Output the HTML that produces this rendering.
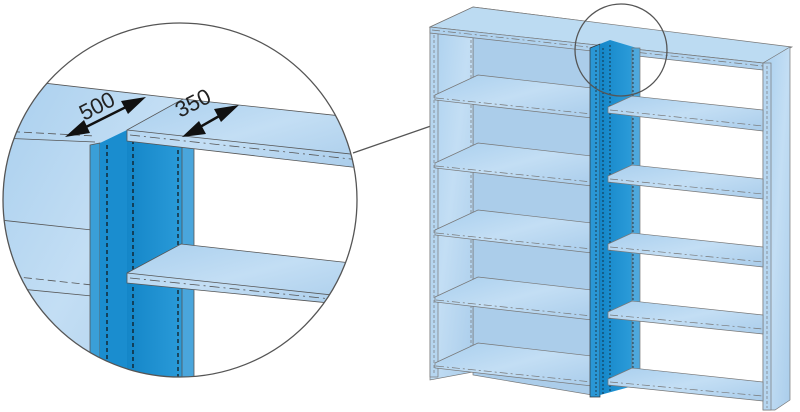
<!DOCTYPE html>
<html><head><style>html,body{margin:0;padding:0;background:#fff}svg{display:block}</style></head>
<body>
<svg width="800" height="412" viewBox="0 0 800 412" xmlns="http://www.w3.org/2000/svg" font-family="Liberation Sans, sans-serif">
<defs>
<linearGradient id="lb" x1="0" y1="0" x2="1" y2="1">
<stop offset="0" stop-color="#a9cfee"/><stop offset="0.5" stop-color="#c3def4"/><stop offset="1" stop-color="#aacdeb"/>
</linearGradient>
<linearGradient id="db" x1="0" y1="0" x2="1" y2="0">
<stop offset="0" stop-color="#1486c8"/><stop offset="1" stop-color="#2f9fdc"/>
</linearGradient>
<clipPath id="cc"><circle cx="180" cy="200" r="177"/></clipPath>
</defs>

<!-- ===== Zoom circle ===== -->
<g clip-path="url(#cc)" stroke="#555" stroke-width="0.8">
<polygon points="0,78 183,99 183,412 0,412" fill="url(#lb)" stroke="none"/>
<line x1="0" y1="78" x2="183" y2="99"/>
<line x1="0" y1="138" x2="95" y2="142"/>
<line x1="0" y1="131" x2="95" y2="136" stroke-dasharray="8,4"/>
<line x1="0" y1="220" x2="92" y2="230"/>
<line x1="0" y1="275" x2="92" y2="285" stroke-dasharray="8,4"/>
<line x1="0" y1="287" x2="92" y2="296"/>
<polygon points="90,145 100,143 100,412 90,412" fill="#3a9fd8"/>
<polygon points="100,143 127,130 127,412 100,412" fill="#1a8dcf" stroke="none"/>
<polygon points="127,130 194,130 194,412 127,412" fill="url(#db)" stroke="none"/>
<polygon points="182,140 194,140 194,412 182,412" fill="#4aa6dc"/>
<line x1="107" y1="145" x2="107" y2="412" stroke="#111" stroke-dasharray="4,3" stroke-width="1.2"/>
<line x1="133" y1="140" x2="133" y2="412" stroke="#111" stroke-dasharray="4,3" stroke-width="1.2"/>
<line x1="178" y1="143" x2="178" y2="412" stroke="#111" stroke-dasharray="4,3" stroke-width="1.2"/>
<polygon points="127,130 183,99 360,118 360,168 127,141" fill="url(#lb)"/>
<line x1="127" y1="130" x2="360" y2="155"/>
<line x1="130" y1="135" x2="360" y2="160" stroke-dasharray="10,4,2,4"/>
<polygon points="127,273 181,244 360,264 360,306 127,283" fill="url(#lb)"/>
<line x1="127" y1="273" x2="360" y2="298"/>
<line x1="130" y1="278" x2="360" y2="302" stroke-dasharray="10,4,2,4"/>
</g>
<circle cx="180" cy="200" r="177" fill="none" stroke="#555" stroke-width="1.3"/>
<line x1="353" y1="153" x2="578" y2="75" stroke="#555" stroke-width="1.3"/>
<g stroke="#111" stroke-width="2.5" fill="#111">
<line x1="76" y1="132" x2="134" y2="103"/>
<polygon points="65,137 84,120 90,133" stroke="none"/>
<polygon points="146,97 121,101 128,114" stroke="none"/>
<line x1="193" y1="131" x2="228" y2="111"/>
<polygon points="182,137 199,121 206,134" stroke="none"/>
<polygon points="239,105 214,109 221,122" stroke="none"/>
</g>
<text x="0" y="0" font-size="22" fill="#222" transform="translate(84,121) rotate(-27)">500</text>
<text x="0" y="0" font-size="22" fill="#222" transform="translate(180,118) rotate(-27)">350</text>

<!-- ===== Shelving unit ===== -->
<g stroke="#777" stroke-width="0.7">
<polygon points="473,7 592,22 592,395 473,375" fill="#abcdea"/>
<polygon points="430,27 473,7 473,372 430,380" fill="url(#lb)"/>
<rect x="430" y="27" width="8" height="350" fill="#b6d6f0"/>
<line x1="434" y1="30" x2="434" y2="375" stroke-dasharray="3,2"/>
<line x1="471" y1="30" x2="471" y2="365" stroke-dasharray="3,2"/>
<!-- continuous top -->
<polygon points="430,27 473,7 792,47 763,63 430,27" fill="#bcdbf2"/>
<polygon points="430,27 763,63 763,70 430,33" fill="#b0d2ee"/>
<line x1="432" y1="30" x2="763" y2="66" stroke-dasharray="8,3,2,3"/>
<g fill="url(#lb)">
<polygon points="435,95 478,75 592,88 592,118 435,100"/>
<polygon points="435,163 478,143 592,156 592,186 435,168"/>
<polygon points="435,230 478,210 592,223 592,253 435,235"/>
<polygon points="435,297 478,277 592,290 592,320 435,302"/>
<polygon points="435,363 478,343 592,356 592,386 435,368"/>
</g>
<g stroke-dasharray="8,3,2,3">
<line x1="436" y1="98" x2="592" y2="114"/><line x1="436" y1="166" x2="592" y2="182"/>
<line x1="436" y1="233" x2="592" y2="249"/><line x1="436" y1="300" x2="592" y2="316"/>
<line x1="436" y1="366" x2="592" y2="382"/>
</g>
<polygon points="763,63 790,47 790,400 775,410 763,410" fill="url(#lb)"/>
<rect x="763" y="63" width="8" height="347" fill="#b6d6f0"/>
<line x1="767" y1="66" x2="767" y2="408" stroke-dasharray="3,2"/>
<!-- middle upright -->
<polygon points="590,48 600,44 600,397 590,397" fill="#2a97d5" stroke="#333"/>
<polygon points="600,44 610,40 637,48 637,385 600,395" fill="url(#db)" stroke="none"/>
<polygon points="632,48 640,48 640,383 632,385" fill="#4ea8dd"/>
<line x1="596" y1="50" x2="596" y2="395" stroke="#111" stroke-dasharray="2,2"/>
<line x1="603" y1="48" x2="603" y2="395" stroke="#111" stroke-dasharray="2,2"/>
<line x1="610" y1="45" x2="610" y2="393" stroke="#111" stroke-dasharray="2,2"/>
<line x1="633" y1="50" x2="633" y2="385" stroke="#111" stroke-dasharray="2,2"/>
<!-- right unit shelves (in front of upright) -->
<g fill="url(#lb)">
<polygon points="608,107 632,96 763,110 763,131 608,113"/>
<polygon points="608,176 632,165 763,179 763,199 608,182"/>
<polygon points="608,244 632,233 763,247 763,267 608,250"/>
<polygon points="608,312 632,301 763,315 763,334 608,318"/>
<polygon points="608,379 632,368 763,382 763,401 608,385"/>
</g>
<g stroke-dasharray="8,3,2,3">
<line x1="610" y1="110" x2="763" y2="126"/><line x1="610" y1="179" x2="763" y2="194"/>
<line x1="610" y1="247" x2="763" y2="262"/><line x1="610" y1="315" x2="763" y2="329"/>
<line x1="610" y1="382" x2="763" y2="396"/>
</g>
</g>
<circle cx="621" cy="50" r="46" fill="none" stroke="#555" stroke-width="1.3"/>
</svg>
</body></html>
